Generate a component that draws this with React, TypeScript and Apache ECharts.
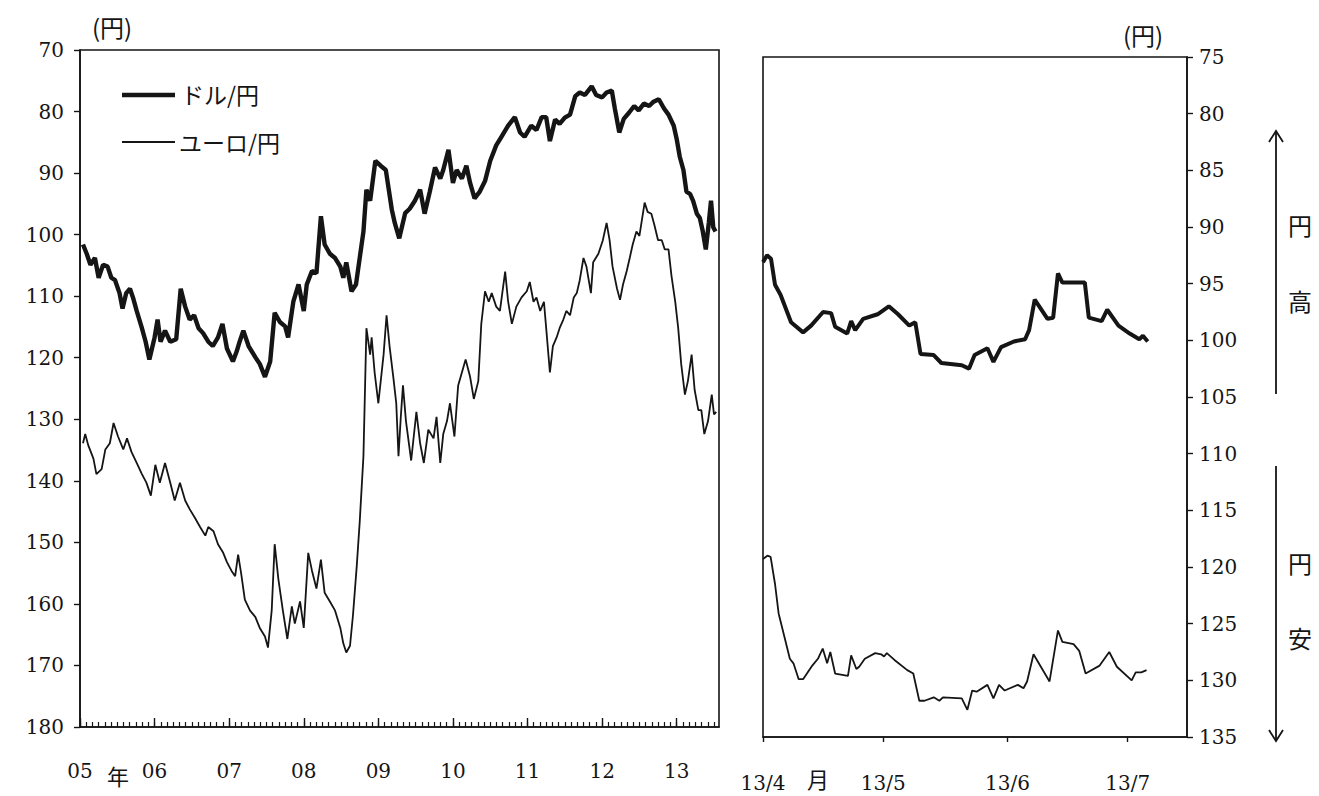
import { useEffect, useRef } from 'react';
import * as echarts from 'echarts';

// ---- Left panel: 2005 - 2013 (x = decimal year) ----
const usdYear = [
  2005.04, 2005.09, 2005.14, 2005.2, 2005.25, 2005.31, 2005.37, 2005.42, 2005.47, 2005.53,
  2005.57, 2005.62, 2005.67, 2005.71, 2005.76, 2005.83, 2005.88, 2005.93, 2006.0, 2006.04,
  2006.08, 2006.14, 2006.21, 2006.29, 2006.35, 2006.41, 2006.47, 2006.53, 2006.59, 2006.65,
  2006.72, 2006.78, 2006.85, 2006.91, 2006.97, 2007.05, 2007.1, 2007.14, 2007.19, 2007.26,
  2007.35, 2007.41, 2007.48, 2007.55, 2007.61, 2007.68, 2007.75, 2007.79, 2007.86, 2007.93,
  2008.0, 2008.04, 2008.11, 2008.17, 2008.23, 2008.28, 2008.35, 2008.42, 2008.49, 2008.53,
  2008.57, 2008.64, 2008.7, 2008.75, 2008.8, 2008.84, 2008.89, 2008.96, 2009.03, 2009.1,
  2009.18, 2009.22, 2009.28, 2009.36, 2009.42, 2009.49, 2009.56, 2009.62, 2009.69, 2009.76,
  2009.83, 2009.87, 2009.94, 2010.0, 2010.05, 2010.12, 2010.18, 2010.23, 2010.29, 2010.36,
  2010.43, 2010.5, 2010.58, 2010.65, 2010.74, 2010.83, 2010.9, 2010.96, 2011.05, 2011.12,
  2011.19, 2011.25, 2011.3, 2011.37, 2011.43, 2011.5, 2011.57, 2011.64, 2011.7, 2011.77,
  2011.86, 2011.92, 2012.0, 2012.06, 2012.13, 2012.17, 2012.23, 2012.29, 2012.36, 2012.43,
  2012.49, 2012.56, 2012.63, 2012.69, 2012.76, 2012.83, 2012.89, 2012.96, 2013.0, 2013.04,
  2013.09, 2013.13, 2013.18, 2013.22, 2013.27, 2013.31, 2013.35, 2013.39, 2013.43, 2013.46,
  2013.49, 2013.52,
];
const usdRate = [
  101.6, 103.1, 104.9, 103.8, 107.0, 104.9, 105.2, 107.0, 107.4, 109.5,
  112.0, 109.5, 108.8, 110.2, 112.4, 115.2, 117.4, 120.3, 116.7, 113.8,
  117.4, 115.6, 117.4, 117.0, 108.8, 111.7, 113.8, 113.1, 115.2, 116.0,
  117.4, 118.1, 116.7, 114.5, 118.5, 120.6, 119.0, 117.4, 115.6, 118.1,
  119.9, 121.0, 123.1, 120.6, 112.7, 114.2, 114.9, 116.7, 110.9, 108.1,
  112.4, 108.1, 105.9, 106.3, 97.0, 101.6, 103.1, 103.8, 105.2, 107.0,
  104.5, 109.2, 108.1, 103.8, 99.5, 92.7, 94.5, 88.0, 88.8, 89.5,
  95.9, 98.1, 100.6, 96.5, 95.8, 94.5, 92.7, 96.6, 93.0, 89.1,
  90.9, 89.5, 86.2, 91.6, 89.5, 90.9, 88.8, 91.6, 94.1, 93.0,
  91.3, 88.0, 85.5, 84.1, 82.3, 80.9, 83.4, 84.1, 82.3, 83.0,
  80.9, 80.9, 84.8, 81.3, 82.0, 81.0, 80.5, 77.5, 76.9, 77.3,
  75.9, 77.3, 77.7, 76.9, 76.6, 79.5, 83.4, 81.2, 80.2, 79.1,
  79.8, 78.7, 79.1, 78.4, 78.0, 79.5, 80.5, 82.3, 84.5, 87.3,
  89.5, 93.0, 93.4, 94.5, 96.6, 97.3, 99.5, 102.4, 98.1, 94.5,
  98.8, 99.5,
];

const eurYear = [
  2005.04, 2005.07, 2005.11, 2005.18, 2005.22, 2005.29, 2005.34, 2005.4, 2005.45, 2005.51,
  2005.58, 2005.63, 2005.69, 2005.76, 2005.83, 2005.89, 2005.95, 2006.01, 2006.07, 2006.14,
  2006.21, 2006.27, 2006.34, 2006.41, 2006.47, 2006.54, 2006.61, 2006.68, 2006.72, 2006.79,
  2006.85, 2006.92, 2006.97, 2007.03, 2007.08, 2007.12, 2007.16, 2007.21, 2007.28, 2007.35,
  2007.41, 2007.48, 2007.52, 2007.57, 2007.61, 2007.66, 2007.72, 2007.78, 2007.84, 2007.88,
  2007.95, 2008.0, 2008.06, 2008.11, 2008.17, 2008.23, 2008.28, 2008.35, 2008.42, 2008.49,
  2008.53, 2008.57, 2008.62, 2008.66, 2008.71, 2008.75, 2008.8, 2008.84, 2008.89, 2008.91,
  2008.95, 2009.0, 2009.07, 2009.11, 2009.15, 2009.2, 2009.24, 2009.27, 2009.3, 2009.33,
  2009.37, 2009.44, 2009.51, 2009.56, 2009.61, 2009.67, 2009.74, 2009.78, 2009.83, 2009.87,
  2009.92, 2009.96, 2010.02, 2010.07, 2010.12, 2010.17, 2010.23, 2010.28, 2010.34, 2010.38,
  2010.43, 2010.48, 2010.52, 2010.58, 2010.63, 2010.7, 2010.74, 2010.79, 2010.85, 2010.92,
  2010.99, 2011.03, 2011.08, 2011.12, 2011.17, 2011.22, 2011.25, 2011.3, 2011.34, 2011.39,
  2011.43, 2011.48, 2011.52, 2011.57, 2011.62, 2011.66, 2011.7, 2011.75, 2011.79, 2011.85,
  2011.88, 2011.95, 2012.01, 2012.06, 2012.1, 2012.14, 2012.2, 2012.24, 2012.28, 2012.33,
  2012.37, 2012.41, 2012.46, 2012.5, 2012.57, 2012.61, 2012.66, 2012.7, 2012.75, 2012.8,
  2012.84, 2012.89, 2012.93, 2012.98, 2013.02, 2013.06, 2013.11, 2013.15, 2013.2, 2013.24,
  2013.29, 2013.33, 2013.37, 2013.42, 2013.47, 2013.5, 2013.53,
];
const eurRate = [
  133.9, 132.4, 134.2, 136.4, 138.9, 138.1, 134.9, 133.9, 130.6, 132.8,
  134.9, 133.1, 135.3, 137.1, 138.9, 140.3, 142.4, 137.4, 140.3, 137.1,
  140.3, 143.2, 140.3, 143.2, 144.6, 146.0, 147.5, 148.9, 147.5, 148.2,
  150.3, 151.7, 153.2, 154.6, 155.5, 152.0, 155.0, 159.3, 161.1, 162.1,
  163.9, 165.3, 167.1, 161.1, 150.3, 156.0, 161.1, 165.7, 160.4, 163.2,
  159.6, 163.9, 151.7, 154.6, 157.5, 152.8, 158.2, 159.6, 161.1, 163.9,
  166.4, 167.9, 166.8, 161.8, 153.9, 146.7, 136.0, 115.2, 119.5, 116.7,
  122.4, 127.4, 119.5, 113.1, 118.1, 123.1, 127.4, 136.0, 129.8, 124.5,
  130.3, 136.7, 128.8, 133.9, 137.1, 131.7, 133.1, 129.6, 137.1, 132.4,
  130.3, 127.4, 132.8, 124.5, 122.4, 120.3, 123.1, 126.7, 123.8, 114.5,
  109.2, 110.9, 109.5, 111.7, 112.4, 106.0, 110.9, 114.5, 111.7, 110.2,
  109.2, 107.7, 110.9, 110.2, 112.4, 110.9, 115.2, 122.4, 118.1, 116.7,
  115.2, 113.8, 112.4, 113.1, 110.2, 109.5, 107.4, 103.8, 105.2, 109.5,
  104.5, 103.1, 100.9, 98.1, 100.9, 105.2, 108.8, 110.6, 108.1, 105.9,
  103.8, 101.6, 99.5, 100.2, 94.8, 96.3, 96.6, 98.4, 100.9, 100.9,
  102.4, 102.4, 106.7, 110.9, 115.2, 121.0, 126.0, 123.8, 119.5, 125.2,
  128.5, 128.5, 132.4, 130.3, 126.0, 129.2, 128.8,
];

// ---- Right panel: 2013/4 - 2013/7 (x = days since 2013-04-01) ----
const recentUsdDay = [
  0, 1, 2, 3, 4.4, 7, 10, 12, 15, 17, 18, 21, 22, 23, 25, 28.6, 31.4, 33.7, 36.5, 38,
  39.3, 42.6, 44.5, 49.6, 51.4, 52.8, 56, 57.5, 59.4, 62.6, 65.4, 66.4, 67.8, 71, 72.4,
  73.6, 74.7, 80.3, 81.3, 84.5, 85.9, 88.7, 91.5, 93.9, 94.8, 96,
];
const recentUsd = [
  93.1, 92.5, 92.8, 95.1, 96.0, 98.4, 99.3, 98.7, 97.5, 97.6, 98.8, 99.4, 98.3, 99.1, 98.1,
  97.7, 97.0, 97.7, 98.7, 98.4, 101.2, 101.3, 102.0, 102.2, 102.5, 101.3, 100.7, 101.9, 100.6,
  100.1, 99.9, 99.1, 96.4, 98.1, 98.0, 94.1, 94.9, 94.9, 98.0, 98.3, 97.3, 98.7, 99.4, 99.9,
  99.6, 100.1,
];
const recentEurDay = [
  0, 1.1, 1.9, 3, 3.9, 6.7, 7.6, 8.9, 10, 12.3, 13.7, 14.9, 16, 16.8, 18, 21.2, 22, 23.3, 24,
  25.4, 28, 29.5, 30.2, 30.9, 32.8, 36, 37.5, 39, 40.3, 42.6, 44, 44.9, 49.6, 51, 52.2, 53.3,
  56, 57.5, 58.9, 60.3, 63.6, 65, 65.9, 67.5, 71.5, 73.6, 74.7, 77.5, 78.9, 80.5, 84, 86.4,
  88.3, 92, 93, 94.4, 95.7,
];
const recentEur = [
  119.3, 119.0, 119.1, 121.5, 124.1, 128.1, 128.5, 129.9, 129.9, 128.7, 128.1, 127.2, 128.5,
  127.5, 129.4, 129.6, 127.8, 129.0, 128.8, 128.1, 127.6, 127.7, 127.9, 127.6, 128.2, 129.1,
  129.4, 131.8, 131.8, 131.5, 131.8, 131.5, 131.6, 132.6, 130.9, 131.0, 130.4, 131.6, 130.4,
  130.9, 130.4, 130.7, 130.1, 127.7, 130.1, 125.6, 126.6, 126.8, 127.4, 129.4, 128.7, 127.5,
  128.8, 130.0, 129.3, 129.3, 129.1,
];

// ---- Axis ticks / labels ----
const yearTicks = [2005, 2006, 2007, 2008, 2009, 2010, 2011, 2012, 2013];
const monthTickLabels: Record<number, string> = { 0: '13/4', 30: '13/5', 61: '13/6', 91: '13/7' };
const monthTickDays = [0, 30, 61, 91];
const seriesNames = ['ドル/円', 'ユーロ/円'];

const LEFT_MAX = 2013.567;
const RIGHT_MAX = 105.8;
const INK = '#151515';
const NUM_FONT = 'DejaVu Serif';
const JP_FONT = 'Noto Sans CJK JP';
const USD_WIDTH = 4.4;
const EUR_WIDTH = 1.8;

function zip(xs: number[], ys: number[]) {
  return xs.map((x, i) => [x, ys[i]]);
}

export default function App() {
  const ref = useRef<HTMLDivElement>(null);
  useEffect(() => {
    document.body.style.margin = '0';
    const chart = echarts.init(ref.current!, null, { renderer: 'svg' });
    const monthTicks: number[] = [];
    for (let y = 2005; y <= 2013; y++) {
      for (let m = 0; m < 12; m++) {
        const v = y + m / 12;
        if (v <= LEFT_MAX) monthTicks.push(v);
      }
    }
    const line = () => ({ show: true, onZero: false, lineStyle: { color: INK, width: 1.6 } });
    const numLabel = () => ({ color: INK, fontFamily: NUM_FONT, fontSize: 20 });
    const jp = (size: number) => `${size}px "${JP_FONT}"`;
    const noExtras = { splitLine: { show: false }, splitArea: { show: false }, minorTick: { show: false }, minorSplitLine: { show: false } };
    chart.setOption({
      animation: false,
      backgroundColor: '#ffffff',
      grid: [
        { left: 80, top: 50, width: 639, height: 677, show: true, borderColor: INK, borderWidth: 1.6 },
        { left: 763, top: 57, width: 424, height: 680, show: true, borderColor: INK, borderWidth: 1.6 },
      ],
      xAxis: [
        {
          type: 'value', gridIndex: 0, min: 2005, max: LEFT_MAX, interval: 1,
          axisLine: line(),
          axisTick: { show: true, inside: true, length: 9, customValues: yearTicks, lineStyle: { color: INK, width: 1.4 } },
          axisLabel: {
            ...numLabel(), margin: 34, customValues: yearTicks,
            formatter: (v: number) => String(Math.round(v) % 100).padStart(2, '0'),
          },
          ...noExtras,
        },
        {
          type: 'value', gridIndex: 0, min: 2005, max: LEFT_MAX, position: 'bottom', offset: 0,
          axisLine: { show: false, onZero: false },
          axisTick: { show: true, inside: true, length: 5, customValues: monthTicks, lineStyle: { color: INK, width: 1.2 } },
          axisLabel: { show: false },
          ...noExtras,
        },
        {
          type: 'value', gridIndex: 1, min: 0, max: RIGHT_MAX,
          axisLine: line(),
          axisTick: { show: true, inside: false, length: 5, customValues: monthTickDays, lineStyle: { color: INK, width: 1.4 } },
          axisLabel: {
            ...numLabel(), margin: 36, customValues: monthTickDays,
            formatter: (v: number) => monthTickLabels[Math.round(v)] ?? '',
          },
          ...noExtras,
        },
      ],
      yAxis: [
        {
          type: 'value', gridIndex: 0, min: 70, max: 180, interval: 10, inverse: true,
          axisLine: line(),
          axisTick: { show: true, inside: false, length: 6, lineStyle: { color: INK, width: 1.4 } },
          axisLabel: { ...numLabel(), margin: 16 },
          ...noExtras,
        },
        {
          type: 'value', gridIndex: 1, min: 75, max: 135, interval: 5, inverse: true, position: 'right',
          axisLine: line(),
          axisTick: { show: true, inside: false, length: 6, lineStyle: { color: INK, width: 1.4 } },
          axisLabel: { ...numLabel(), margin: 12 },
          ...noExtras,
        },
      ],
      series: [
        {
          name: seriesNames[0], type: 'line', xAxisIndex: 0, yAxisIndex: 0, symbol: 'none',
          data: zip(usdYear, usdRate), lineStyle: { color: INK, width: USD_WIDTH }, itemStyle: { color: INK },
        },
        {
          name: seriesNames[1], type: 'line', xAxisIndex: 0, yAxisIndex: 0, symbol: 'none',
          data: zip(eurYear, eurRate), lineStyle: { color: INK, width: EUR_WIDTH }, itemStyle: { color: INK },
        },
        {
          name: seriesNames[0], type: 'line', xAxisIndex: 2, yAxisIndex: 1, symbol: 'none',
          data: zip(recentUsdDay, recentUsd), lineStyle: { color: INK, width: 4 }, itemStyle: { color: INK },
        },
        {
          name: seriesNames[1], type: 'line', xAxisIndex: 2, yAxisIndex: 1, symbol: 'none',
          data: zip(recentEurDay, recentEur), lineStyle: { color: INK, width: EUR_WIDTH }, itemStyle: { color: INK },
        },
      ],
      graphic: [
        // legend
        { type: 'line', shape: { x1: 122, y1: 95, x2: 175, y2: 95 }, style: { stroke: INK, lineWidth: USD_WIDTH } },
        { type: 'text', left: 181, top: 82, style: { text: seriesNames[0], fill: INK, font: jp(23) } },
        { type: 'line', shape: { x1: 122, y1: 142, x2: 175, y2: 142 }, style: { stroke: INK, lineWidth: EUR_WIDTH } },
        { type: 'text', left: 179, top: 130, style: { text: seriesNames[1], fill: INK, font: jp(23) } },
        // units and annotations
        { type: 'text', left: 92, top: 14, style: { text: '(円)', fill: INK, font: jp(24) } },
        { type: 'text', left: 1123, top: 22, style: { text: '(円)', fill: INK, font: jp(24) } },
        { type: 'text', left: 107, top: 764, style: { text: '年', fill: INK, font: jp(22) } },
        { type: 'text', left: 807, top: 767, style: { text: '月', fill: INK, font: jp(22) } },
        { type: 'text', left: 1288, top: 212, style: { text: '円', fill: INK, font: jp(24) } },
        { type: 'text', left: 1288, top: 288, style: { text: '高', fill: INK, font: jp(24) } },
        { type: 'text', left: 1288, top: 550, style: { text: '円', fill: INK, font: jp(24) } },
        { type: 'text', left: 1288, top: 625, style: { text: '安', fill: INK, font: jp(24) } },
        { type: 'line', shape: { x1: 1276, y1: 394, x2: 1276, y2: 132 }, style: { stroke: INK, lineWidth: 1.8 } },
        { type: 'polyline', shape: { points: [[1269, 142], [1276, 131], [1283, 142]] }, style: { stroke: INK, lineWidth: 1.8, fill: null } },
        { type: 'line', shape: { x1: 1276, y1: 466, x2: 1276, y2: 740 }, style: { stroke: INK, lineWidth: 1.8 } },
        { type: 'polyline', shape: { points: [[1269, 730], [1276, 741], [1283, 730]] }, style: { stroke: INK, lineWidth: 1.8, fill: null } },
      ],
    });
    return () => chart.dispose();
  }, []);
  return <div ref={ref} style={{ width: 1319, height: 796 }} />;
}
